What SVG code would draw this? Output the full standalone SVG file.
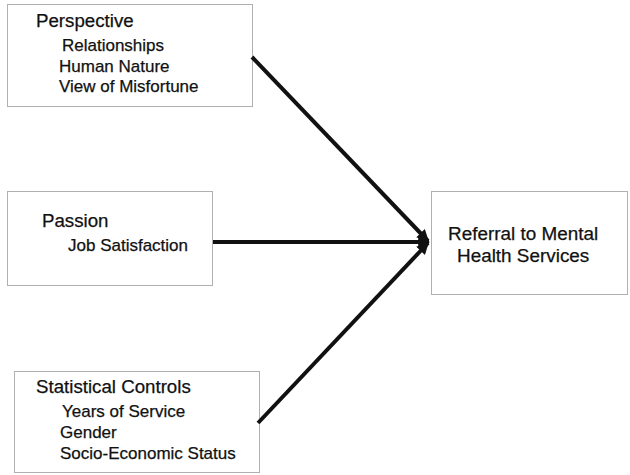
<svg xmlns="http://www.w3.org/2000/svg" width="630" height="475" viewBox="0 0 630 475">
<style>
.box{fill:#fff;stroke:#b0b0b0;stroke-width:1}
.t{font-family:"Liberation Sans",Arial,sans-serif;fill:#111;stroke:#111;stroke-width:0.25}
.h{font-size:18.7px}
.s{font-size:17px}
.r{font-size:18.9px}
.c{stroke:#111;stroke-width:4;fill:none}
</style>
<defs>
<marker id="ah" viewBox="0 0 10 10" refX="9" refY="5" markerWidth="3" markerHeight="3" orient="auto" markerUnits="strokeWidth">
<path d="M0,0 L10,5 L0,10 Z" fill="#111"/>
</marker>
</defs>
<rect width="630" height="475" fill="#fff"/>
<g id="perspective">
<rect class="box" x="7.5" y="4.5" width="245" height="102"/>
<text class="t h" x="36" y="27">Perspective</text>
<text class="t s" x="62" y="51">Relationships</text>
<text class="t s" x="59" y="72">Human Nature</text>
<text class="t s" x="59" y="92">View of Misfortune</text>
</g>
<g id="passion">
<rect class="box" x="7.5" y="191.5" width="205" height="94"/>
<text class="t h" x="42" y="227">Passion</text>
<text class="t s" x="68" y="251">Job Satisfaction</text>
</g>
<g id="controls">
<rect class="box" x="14.5" y="371.5" width="245" height="101"/>
<text class="t h" x="36" y="393">Statistical Controls</text>
<text class="t s" x="62" y="417">Years of Service</text>
<text class="t s" x="60" y="438">Gender</text>
<text class="t s" x="60" y="459">Socio-Economic Status</text>
</g>
<g id="referral">
<rect class="box" x="431.5" y="191.5" width="196" height="103"/>
<text class="t r" x="448" y="240">Referral to Mental</text>
<text class="t r" x="457" y="262">Health Services</text>
</g>
<g id="connectors">
<line class="c" x1="252" y1="57" x2="428" y2="241" marker-end="url(#ah)"/>
<line class="c" x1="213" y1="242" x2="429" y2="242" marker-end="url(#ah)"/>
<line class="c" x1="258" y1="423" x2="428" y2="243" marker-end="url(#ah)"/>
</g>
</svg>
